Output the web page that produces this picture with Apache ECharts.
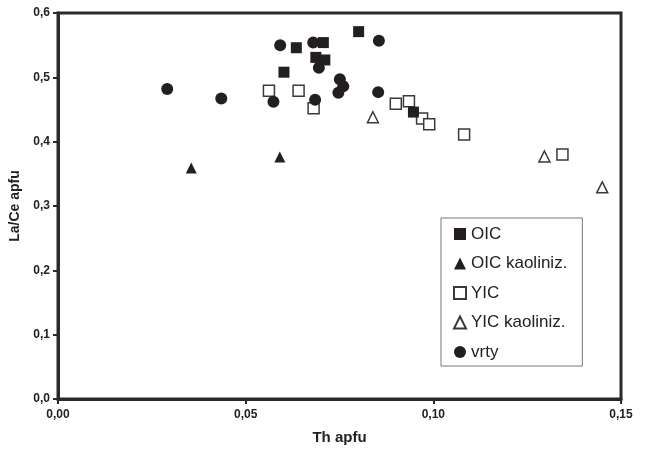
<!DOCTYPE html>
<html>
<head>
<meta charset="utf-8">
<script src="https://cdn.jsdelivr.net/npm/echarts@6/dist/echarts.min.js"></script>
<style>
    html, body { margin: 0; padding: 0; background: #fff; }
    #chart { width: 645px; height: 452px; }
</style>
</head>
<body>
<div id="chart"></div>
<script>
// data: [Th apfu, La/Ce apfu]
var oic = [[0.0635, 0.546], [0.0707, 0.554], [0.0687, 0.531], [0.0711, 0.527],
           [0.0801, 0.571], [0.0602, 0.508], [0.0947, 0.446]];
var oicKaol = [[0.0355, 0.359], [0.0591, 0.376]];
var yic = [[0.0562, 0.479], [0.0641, 0.479], [0.0681, 0.452], [0.0900, 0.459],
           [0.0935, 0.463], [0.0970, 0.436], [0.0989, 0.427], [0.1082, 0.411],
           [0.1344, 0.380]];
var yicKaol = [[0.0839, 0.438], [0.1296, 0.377], [0.1450, 0.329]];
var vrty = [[0.0291, 0.482], [0.0435, 0.467], [0.0592, 0.550], [0.0574, 0.462],
            [0.0680, 0.554], [0.0695, 0.515], [0.0685, 0.465], [0.0751, 0.497],
            [0.0760, 0.486], [0.0747, 0.476], [0.0855, 0.557], [0.0853, 0.477]];

var xTickLabels = ['0,00', '0,05', '0,10', '0,15'];
var yTickLabels = ['0,0', '0,1', '0,2', '0,3', '0,4', '0,5', '0,6'];

var ink = '#231f20';
var font = 'Liberation Sans, Arial, sans-serif';

// scatter is drawn at 0.8 opacity by default, the original is solid
var filled = { color: ink, opacity: 1 };
var hollow = { color: '#fff', borderColor: '#3a3a3a', borderWidth: 1.5, opacity: 1 };

var myChart = echarts.init(document.getElementById('chart'));
var option = {
    backgroundColor: '#fff',
    animation: false,
    textStyle: { fontFamily: font },
    grid: {
        show: true,
        left: 58, right: 24, top: 13, bottom: 53,
        borderColor: '#2a2a2a',
        borderWidth: 3
    },
    legend: {
        orient: 'vertical',
        left: 441, top: 218,
        padding: [7, 15, 5, 12],
        borderColor: '#777',
        borderWidth: 1,
        itemWidth: 12, itemHeight: 12,
        itemGap: 11.5,
        textStyle: { fontSize: 17, lineHeight: 18, color: '#222', fontFamily: font },
        data: ['OIC', 'OIC kaoliniz.', 'YIC', 'YIC kaoliniz.', 'vrty']
    },
    xAxis: {
        type: 'value',
        min: 0, max: 0.15, interval: 0.05,
        name: 'Th apfu',
        nameLocation: 'middle',
        nameGap: 31,
        nameTextStyle: { fontSize: 15, fontWeight: 'bold', color: '#222' },
        splitLine: { show: false },
        axisLine: { lineStyle: { color: '#2a2a2a', width: 3 } },
        axisTick: { length: 5, lineStyle: { color: '#2a2a2a', width: 2 } },
        axisLabel: {
            margin: 10, fontSize: 12, fontWeight: 'bold', color: '#222',
            formatter: function (v, i) { return xTickLabels[i]; }
        }
    },
    yAxis: {
        type: 'value',
        min: 0, max: 0.6, interval: 0.1,
        name: 'La/Ce apfu',
        nameLocation: 'middle',
        nameGap: 36,
        nameTextStyle: { fontSize: 14, fontWeight: 'bold', color: '#222' },
        splitLine: { show: false },
        axisLine: { lineStyle: { color: '#2a2a2a', width: 3 } },
        axisTick: { length: 5, lineStyle: { color: '#2a2a2a', width: 2 } },
        axisLabel: {
            margin: 8, fontSize: 12, fontWeight: 'bold', color: '#222',
            formatter: function (v, i) { return yTickLabels[i]; }
        }
    },
    series: [
        { name: 'YIC', type: 'scatter', symbol: 'rect', symbolSize: 11, itemStyle: hollow, data: yic, z: 2 },
        { name: 'YIC kaoliniz.', type: 'scatter', symbol: 'triangle', symbolSize: 11, itemStyle: hollow, data: yicKaol, z: 2 },
        { name: 'OIC', type: 'scatter', symbol: 'rect', symbolSize: 11, itemStyle: filled, data: oic, z: 3 },
        { name: 'OIC kaoliniz.', type: 'scatter', symbol: 'triangle', symbolSize: 11, itemStyle: filled, data: oicKaol, z: 3 },
        { name: 'vrty', type: 'scatter', symbol: 'circle', symbolSize: 12, itemStyle: filled, data: vrty, z: 4 }
    ]
};
myChart.setOption(option);
</script>
</body>
</html>
